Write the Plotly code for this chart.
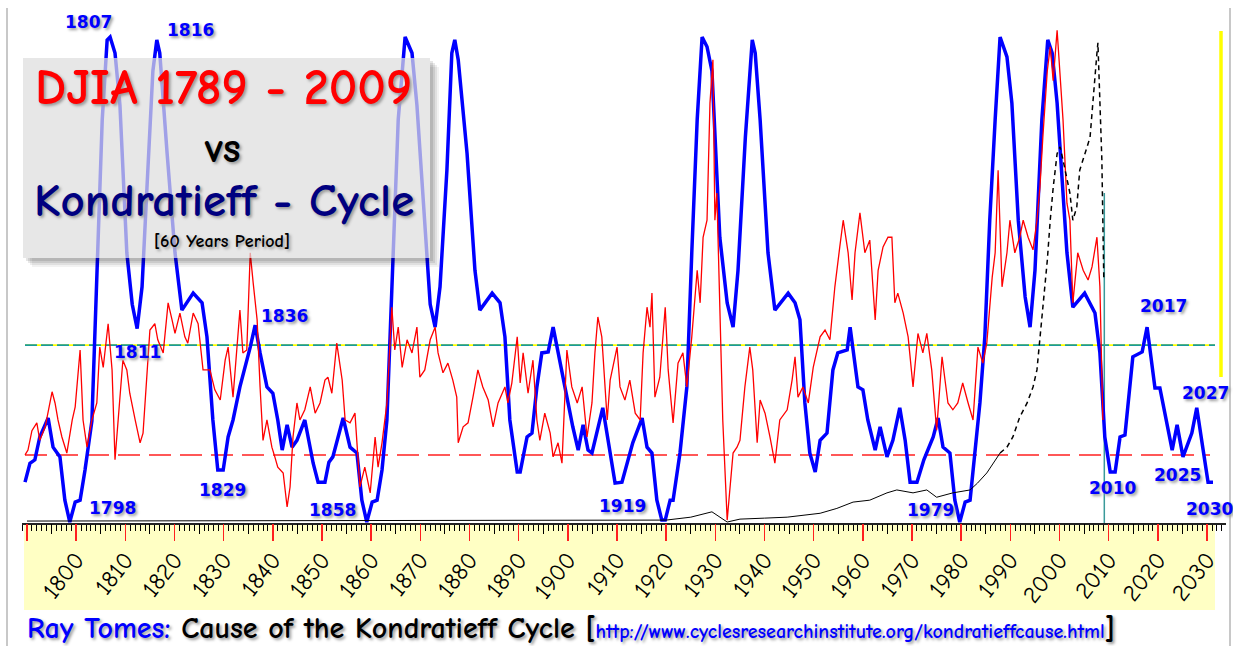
import plotly.graph_objects as go

# ---------------- data ----------------
blue_years = [1789.6, 1790.6, 1791.6, 1792.6, 1794.3, 1795.3, 1796.7, 1797.7, 1798.7, 1799.8,
              1800.8, 1801.8, 1803.2, 1804.2, 1805.3, 1806.3, 1806.9, 1807.9, 1808.9, 1810.3,
              1811.4, 1812.4, 1813.4, 1814.4, 1815.6, 1816.4, 1817.0, 1818.5, 1820.1, 1821.5,
              1823.8, 1825.6, 1826.6, 1827.8, 1828.8, 1829.9, 1830.9, 1831.9, 1833.3, 1835.4,
              1836.4, 1837.4, 1838.8, 1840.0, 1841.0, 1841.9, 1842.9, 1843.9, 1844.9, 1846.5,
              1848.2, 1849.2, 1850.6, 1851.4, 1852.2, 1854.3, 1855.7, 1857.1, 1858.1, 1859.1,
              1860.2, 1861.2, 1862.2, 1863.2, 1864.2, 1865.5, 1866.9, 1868.3, 1869.3, 1871.3,
              1872.0, 1873.0, 1874.0, 1875.4, 1876.4, 1877.0, 1877.7, 1879.5, 1881.1, 1882.1,
              1884.6, 1886.2, 1887.2, 1888.2, 1889.7, 1890.3, 1891.7, 1892.7, 1893.7, 1894.7,
              1896.0, 1897.0, 1898.0, 1899.4, 1901.0, 1902.1, 1903.1, 1904.1, 1904.9, 1907.1,
              1908.6, 1909.6, 1911.0, 1912.3, 1913.2, 1915.1, 1916.1, 1917.1, 1918.1, 1919.1,
              1919.8, 1920.8, 1921.4, 1922.8, 1924.2, 1925.2, 1926.3, 1927.3, 1928.3, 1929.3,
              1930.9, 1932.4, 1933.6, 1934.6, 1936.1, 1937.5, 1938.1, 1939.1, 1940.7, 1942.1,
              1944.8, 1946.2, 1947.2, 1948.2, 1949.2, 1950.3, 1951.3, 1952.7, 1953.9, 1954.9,
              1956.8, 1957.4, 1958.0, 1959.0, 1960.0, 1961.0, 1962.5, 1963.5, 1964.9, 1966.1,
              1967.5, 1968.6, 1969.6, 1971.0, 1972.4, 1974.3, 1975.3, 1976.3, 1977.7, 1978.7,
              1979.7, 1980.8, 1981.8, 1982.8, 1983.8, 1984.8, 1985.8, 1986.9, 1987.9, 1989.3,
              1990.3, 1991.6, 1993.0, 1994.0, 1995.0, 1996.4, 1997.6, 1998.5, 1999.5, 2001.5,
              2002.7, 2005.1, 2006.2, 2007.2, 2008.2, 2009.2, 2010.3, 2011.3, 2012.3, 2013.3,
              2014.9, 2016.8, 2017.8, 2019.4, 2020.4, 2022.9, 2023.9, 2025.1, 2026.9, 2027.9,
              2029.2, 2030.2, 2031.2]
blue_vals = [8.4, 12.3, 13, 17.7, 21.6, 15.6, 13.6, 4.7, 0.2, 4.3,
             4.7, 10.9, 21, 48.6, 83, 99.4, 100, 96.7, 86, 55.6,
             45, 40, 48.6, 69, 93, 99.4, 96.7, 76, 55.6, 43.8,
             47.3, 45.3, 38.3, 21.2, 10.9, 10.9, 17.7, 21.2, 28, 36.2,
             40.7, 35, 28, 26.7, 21.2, 15, 20.2, 15.6, 17, 21.2,
             12.3, 8.4, 8.4, 12.5, 13.6, 21.6, 15.6, 14.4, 4.7, 0.2,
             4.3, 4.7, 10.9, 21.2, 48.6, 83, 100, 96.7, 86, 55.6,
             45, 40.3, 48.6, 72.6, 96.7, 99.4, 95.3, 76, 52, 43.8,
             47.3, 45.3, 38.3, 21.2, 10.5, 10.5, 17.7, 18.5, 28, 35,
             35.2, 40.3, 35, 28, 19.8, 15, 20.2, 15, 14.4, 23.7,
             15, 8.2, 8.4, 13, 16.5, 21.6, 15.6, 14.4, 4.7, 0.6,
             0.6, 4.7, 4.7, 14.4, 28, 55.6, 83, 100, 98, 93,
             58.8, 45.3, 40.3, 52, 79.4, 99.4, 96.7, 83, 55.6, 43.8,
             47.3, 45.3, 41.8, 24.7, 14.4, 10.5, 17, 18.5, 31.5, 35,
             35.6, 40.3, 35.6, 28, 27.4, 21.2, 15, 19.8, 13.6, 17,
             23.7, 17, 8.4, 8.4, 13, 17.7, 21.6, 15.6, 14.4, 4.7,
             0.2, 4.3, 4.7, 14.4, 24.7, 38.3, 62.3, 83, 100, 95.9,
             86.4, 62.3, 46.5, 40.3, 52, 83, 99.4, 96.7, 86.4, 55.6,
             44.4, 47.3, 45.3, 43.2, 35, 17.7, 10.5, 10.5, 17.7, 18.1,
             34.2, 35.2, 40.3, 27.8, 27.8, 15, 20.2, 13.6, 18.5, 23.7,
             15, 8.4, 8.4]

red_years = [1789.6, 1790.2, 1791.0, 1792.0, 1792.6, 1793.7, 1795.1, 1795.7, 1796.3, 1797.1,
             1798.1, 1799.2, 1799.8, 1800.8, 1801.4, 1802.2, 1803.2, 1804.2, 1804.8, 1805.5,
             1806.5, 1807.3, 1807.9, 1808.5, 1809.5, 1810.3, 1810.9, 1812.0, 1813.0, 1813.6,
             1814.4, 1815.0, 1816.0, 1816.6, 1817.7, 1818.7, 1819.5, 1820.1, 1821.1, 1822.1,
             1822.7, 1823.8, 1824.8, 1825.8, 1827.2, 1828.2, 1829.3, 1830.3, 1830.9, 1831.9,
             1833.3, 1833.9, 1834.7, 1835.4, 1836.0, 1836.8, 1837.4, 1838.0, 1838.8, 1839.8,
             1840.4, 1841.0, 1842.1, 1842.9, 1843.5, 1844.1, 1844.9, 1845.5, 1846.5, 1847.6,
             1848.6, 1849.6, 1850.6, 1851.2, 1852.0, 1853.0, 1854.1, 1854.7, 1855.7, 1856.7,
             1857.7, 1858.7, 1859.8, 1860.8, 1861.4, 1862.2, 1863.2, 1864.2, 1864.8, 1865.5,
             1866.3, 1867.3, 1868.3, 1869.3, 1869.9, 1870.9, 1872.0, 1873.0, 1873.6, 1874.6,
             1875.6, 1876.6, 1877.4, 1877.7, 1878.7, 1879.7, 1880.7, 1881.7, 1882.7, 1883.8,
             1884.8, 1885.8, 1887.2, 1887.8, 1888.6, 1889.7, 1890.3, 1890.9, 1891.9, 1892.9,
             1893.7, 1894.3, 1895.3, 1896.4, 1897.0, 1898.0, 1898.8, 1899.8, 1900.8, 1901.9,
             1902.9, 1903.9, 1904.9, 1905.5, 1906.1, 1906.9, 1908.0, 1908.6, 1910.0, 1910.6,
             1911.6, 1912.6, 1913.7, 1914.7, 1915.3, 1916.1, 1916.7, 1917.1, 1917.7, 1918.7,
             1919.8, 1920.4, 1921.4, 1922.4, 1923.4, 1924.2, 1925.2, 1926.3, 1926.9, 1927.5,
             1928.3, 1928.9, 1929.5, 1929.9, 1930.3, 1930.9, 1931.5, 1932.4, 1933.0, 1933.6,
             1934.4, 1935.0, 1936.0, 1937.0, 1937.6, 1938.5, 1939.1, 1940.1, 1941.1, 1942.1,
             1943.1, 1944.6, 1945.6, 1946.2, 1946.8, 1947.8, 1948.9, 1949.9, 1951.3, 1952.3,
             1953.3, 1954.3, 1955.3, 1956.0, 1957.0, 1957.8, 1958.4, 1959.4, 1960.4, 1961.4,
             1962.5, 1963.1, 1964.1, 1965.1, 1965.9, 1966.5, 1967.1, 1968.2, 1969.2, 1970.2,
             1971.2, 1972.2, 1973.0, 1974.0, 1975.0, 1976.1, 1977.3, 1978.3, 1979.3, 1980.3,
             1981.4, 1982.4, 1983.4, 1984.4, 1985.2, 1986.3, 1986.9, 1987.5, 1988.3, 1989.3,
             1989.9, 1990.9, 1991.9, 1992.6, 1993.6, 1994.6, 1995.4, 1996.0, 1996.6, 1997.5,
             1998.1, 1998.7, 1999.5, 2000.1, 2000.7, 2001.5, 2002.1, 2002.7, 2003.7, 2004.8,
             2005.8, 2006.6, 2007.6, 2008.2, 2008.8]
red_vals = [14, 15, 19, 20.6, 17, 19.8, 27, 24.7, 21.2, 17.7,
            14.4, 21.2, 23.9, 35.6, 21.2, 15.6, 21.2, 24.7, 36.2, 32,
            41, 31.5, 13, 21.2, 33.5, 31.5, 26.7, 21.2, 16.5, 18.5,
            31.5, 39.7, 41, 37.7, 35, 45.3, 41.8, 39, 43.2, 38.3,
            37, 43.2, 41, 31.5, 31.5, 27.4, 25.3, 33.5, 36.2, 25.9,
            43.8, 35, 35.6, 55.6, 49.4, 41.8, 28, 17, 21.2, 15.6,
            13.6, 11.5, 10.3, 3.3, 7.4, 17.7, 24.7, 21.2, 23.3, 28,
            22.6, 24.7, 29.4, 30, 26.7, 37, 29.4, 21.2, 20.6, 22.6,
            7.4, 11.5, 6.2, 17.7, 11.5, 16.5, 24.7, 44.4, 35.6, 40.3,
            32, 37.7, 35, 40.3, 30, 31.5, 37.7, 40.3, 35, 30.9,
            32.9, 29.4, 25.9, 16.5, 19.8, 20.6, 25.9, 31.5, 28, 25.3,
            19.8, 24.7, 28, 24.7, 28.8, 38.3, 28.8, 35, 26.7, 33.5,
            21.2, 17, 22.6, 18.5, 13.6, 16.5, 12.3, 35.6, 28, 24.7,
            28, 17.7, 24.7, 35, 42.4, 38.3, 21.2, 29.4, 36.2, 28,
            25.3, 29.4, 22.6, 21.2, 35, 44.4, 40.3, 47.3, 25.9, 30,
            44.4, 31.5, 20.6, 32.9, 35, 28, 38.3, 52, 45.3, 58.8,
            62.3, 86.4, 95.3, 62.3, 67.9, 41.8, 21.2, 0.6, 7.4, 14.4,
            15.6, 17, 28, 36.2, 31.5, 16.5, 25.3, 22.6, 17.7, 12.3,
            21.2, 23.3, 29.4, 34.2, 25.9, 28, 24.7, 32, 38.3, 39.7,
            37.7, 48.6, 56.8, 62.3, 55.6, 45.9, 55.6, 63.8, 55.6, 58.2,
            41.8, 52, 56.8, 58.8, 58.8, 45.3, 47.3, 43.2, 38.3, 28,
            39, 35, 39, 31.5, 19.1, 34.2, 24.7, 23.3, 24.7, 28.8,
            24.7, 21.2, 36.2, 32.9, 37, 50.6, 55.6, 72.6, 48.6, 55.6,
            62.3, 55.6, 58.8, 62.3, 58.8, 56.2, 62.3, 69, 79.4, 93,
            98, 91, 101.4, 93, 83, 65.8, 62.3, 45.3, 55.6, 52,
            50, 52.7, 58.8, 48.6, 21.2]

black_years = [1790, 1850, 1900, 1910, 1920, 1925, 1929.3, 1932.4, 1935, 1940,
               1944.6, 1951.3, 1954.7, 1958, 1961.4, 1964.9, 1966.9, 1970.2, 1973, 1975,
               1978.3, 1981.8, 1983.3, 1985.2, 1987.9]
black_vals = [0.4, 0.5, 0.5, 0.6, 0.6, 1.2, 2.3, 0.2, 0.8, 1.0,
              1.2, 2, 3, 4.3, 4.7, 6.2, 6.8, 6.2, 6.8, 5.3,
              6.2, 6.8, 8.2, 10.3, 14.4]
black_late_years = [1987.9, 1989.3, 1990.5, 1991.9, 1993.4, 1994.6, 1995.4, 1996, 1996.6, 1997.5,
                    1998.1, 1998.7, 1999.5, 2000.1, 2000.7, 2001.5, 2002.1, 2002.7, 2003.5, 2004.1,
                    2004.8, 2005.6, 2006.2, 2006.8, 2007.6, 2007.8, 2008.2, 2008.6, 2008.8, 2009]
black_late_vals = [14.4, 15.6, 17.7, 21.8, 24.7, 28, 31.5, 37.7, 45.3, 54,
                   62.3, 69, 76, 77.4, 74.7, 70.6, 67.9, 62.3, 65, 72.6,
                   74.7, 77.4, 79.4, 87.7, 96.7, 98.8, 86.4, 74.7, 62.3, 50]

cycle_labels = ["1807", "1816", "1811", "1798", "1829", "1836", "1858", "1919",
                "1979", "2010", "2017", "2025", "2027", "2030"]
decade_ticks = list(range(1790, 2031, 10))
half_ticks = list(range(1795, 2031, 10))
zero_level = 14        # red dashed reference
mid_level = 36.6       # dash-dot reference
crash_year = 2009.1

# ---------------- geometry helpers ----------------
W, H = 1233, 646
L, R, T, B = 22, 1226, 5, 523
X0_PX, PX_PER_YEAR, PX_PER_UNIT = 27, 4.917, 4.86


def xyear(px):
    return 1790 + (px - X0_PX) / PX_PER_YEAR


def yval(py):
    return (B - py) / PX_PER_UNIT


def xp(px):
    return (px - L) / (R - L)


def yp(py):
    return (B - py) / (B - T)


FONT = "Comic Sans MS, Comic Neue, DejaVu Sans, sans-serif"
LABEL_FONT = "DejaVu Sans, Verdana, sans-serif"

fig = go.Figure()
fig.add_trace(go.Scatter(x=blue_years, y=blue_vals, mode="lines",
                         line=dict(color="#0000ff", width=3.5), hoverinfo="skip"))
fig.add_trace(go.Scatter(x=red_years, y=red_vals, mode="lines",
                         line=dict(color="#ff0000", width=1.3), hoverinfo="skip"))
fig.add_trace(go.Scatter(x=black_years, y=black_vals, mode="lines",
                         line=dict(color="#000000", width=1), hoverinfo="skip"))
fig.add_trace(go.Scatter(x=black_late_years, y=black_late_vals, mode="lines",
                         line=dict(color="#000000", width=1.5, dash="5px,4px"), hoverinfo="skip"))
for ax in ("x2", "x3"):
    fig.add_trace(go.Scatter(x=[1800], y=[0], xaxis=ax, mode="markers",
                             marker=dict(opacity=0), hoverinfo="skip"))

shapes = []
# outer frame lines
shapes.append(dict(type="line", xref="paper", yref="paper", x0=xp(7), x1=xp(7),
                   y0=yp(8), y1=yp(646), line=dict(color="#c8c8c8", width=2)))
shapes.append(dict(type="line", xref="paper", yref="paper", x0=xp(1230), x1=xp(1230),
                   y0=yp(8), y1=yp(646), line=dict(color="#c8c8c8", width=2)))
# yellow band under axis
shapes.append(dict(type="rect", xref="paper", yref="paper", x0=xp(24), x1=xp(1215),
                   y0=yp(610), y1=yp(523), fillcolor="#ffffc4", line=dict(width=0),
                   layer="below"))
# reference lines
shapes.append(dict(type="line", xref="x", yref="y", x0=xyear(25), x1=xyear(1210),
                   y0=zero_level, y1=zero_level, layer="below",
                   line=dict(color="#ff2020", width=1.5, dash="22px,9px")))
shapes.append(dict(type="line", xref="x", yref="y", x0=xyear(25), x1=xyear(1215),
                   y0=mid_level, y1=mid_level, layer="below",
                   line=dict(color="#ffff00", width=1.6)))
shapes.append(dict(type="line", xref="x", yref="y", x0=xyear(25), x1=xyear(1215),
                   y0=mid_level, y1=mid_level, layer="below",
                   line=dict(color="#1a9a9a", width=1.6, dash="12px,4px")))
shapes.append(dict(type="line", xref="x", yref="y", x0=crash_year, x1=crash_year,
                   y0=0, y1=yval(193), layer="below",
                   line=dict(color="#3a9a9a", width=1.5)))
shapes.append(dict(type="line", xref="x", yref="y", x0=xyear(1221), x1=xyear(1221),
                   y0=yval(377), y1=yval(31),
                   line=dict(color="#ffff00", width=3.5)))
# title box with soft shadow
for off, alpha in ((9, 0.05), (7, 0.07), (5, 0.09), (3, 0.10)):
    shapes.append(dict(type="rect", xref="paper", yref="paper", x0=xp(430), x1=xp(430 + off),
                       y0=yp(258 + off), y1=yp(58 + off), fillcolor="rgba(0,0,0,%.2f)" % alpha,
                       line=dict(width=0), layer="above"))
    shapes.append(dict(type="rect", xref="paper", yref="paper", x0=xp(23 + off), x1=xp(430),
                       y0=yp(258 + off), y1=yp(258), fillcolor="rgba(0,0,0,%.2f)" % alpha,
                       line=dict(width=0), layer="above"))
shapes.append(dict(type="rect", xref="paper", yref="paper", x0=xp(23), x1=xp(430),
                   y0=yp(258), y1=yp(58), fillcolor="rgba(222,222,222,0.72)",
                   line=dict(width=0), layer="above"))

annotations = []
SHADOW = "2px 2px 3px #9a9a9a"
label_pos = [(88, 22), (190, 30), (137, 352), (112, 508), (222, 490), (284, 316),
             (332, 510), (622, 506), (930, 510), (1112, 488), (1163, 306),
             (1177, 475), (1205, 393), (1209, 509)]
for txt, (px, py) in zip(cycle_labels, label_pos):
    annotations.append(dict(x=xyear(px), y=yval(py), xref="x", yref="y", text=txt,
                            showarrow=False, xanchor="center", yanchor="middle",
                            font=dict(family=LABEL_FONT, size=17, color="#0000ff",
                                      weight="bold", shadow=SHADOW)))

title_items = [("DJIA 1789 - 2009", 223, 88, 50, "#ff0000", "bold"),
               ("vs", 222, 148, 42, "#000000", "bold"),
               ("Kondratieff - Cycle", 224, 201, 47, "#000080", "bold"),
               ("[60 Years Period]", 222, 241, 18, "#000000", "bold")]
for txt, px, py, sz, col, wt in title_items:
    annotations.append(dict(x=xp(px), y=yp(py), xref="paper", yref="paper", text=txt,
                            showarrow=False, xanchor="center", yanchor="middle",
                            font=dict(family=FONT, size=sz, color=col, weight=wt,
                                      shadow=SHADOW)))

footer = ("<span style='color:#0000ff'>Ray Tomes:</span> "
          "Cause of the Kondratieff Cycle ["
          "<span style='color:#0000ff;font-size:20px'>http://www.cyclesresearchinstitute.org/"
          "kondratieffcause.html</span>]")
annotations.append(dict(x=xp(25), y=yp(628), xref="paper", yref="paper", text=footer,
                        showarrow=False, xanchor="left", yanchor="middle",
                        font=dict(family=FONT, size=30, color="#000000", weight="bold",
                                  shadow=SHADOW)))

xrange = [xyear(L), xyear(R)]
fig.update_layout(
    template="none",
    width=W, height=H,
    margin=dict(l=L, r=W - R, t=T, b=H - B, pad=0),
    paper_bgcolor="white", plot_bgcolor="white",
    showlegend=False,
    xaxis=dict(range=xrange, showgrid=False, zeroline=False, showline=True,
               linecolor="#222222", linewidth=2, ticks="", tickmode="array",
               tickvals=decade_ticks, ticktext=[str(v) for v in decade_ticks],
               tickangle=-52, ticklabelstandoff=11,
               tickfont=dict(family=FONT, size=24, color="#000000"),
               minor=dict(ticks="outside", dtick=1, tick0=1790, ticklen=6,
                          tickcolor="#000000", tickwidth=1),
               automargin=False, fixedrange=True),
    xaxis2=dict(range=xrange, overlaying="x", anchor="y", side="bottom",
                tickmode="array", tickvals=half_ticks, ticks="outside", ticklen=10,
                tickcolor="#000000", tickwidth=1, showticklabels=False,
                showgrid=False, zeroline=False, showline=False, automargin=False),
    xaxis3=dict(range=xrange, overlaying="x", anchor="y", side="bottom",
                tickmode="array", tickvals=decade_ticks, ticks="outside", ticklen=17,
                tickcolor="#ff2020", tickwidth=1.5, showticklabels=False,
                showgrid=False, zeroline=False, showline=False, automargin=False),
    yaxis=dict(range=[0, yval(T)], visible=False, fixedrange=True, automargin=False),
    shapes=shapes,
    annotations=annotations,
)

fig.write_html("out.html",
               config={"displayModeBar": False, "staticPlot": True},
               post_script="document.body.style.margin='0';"
                           "document.body.style.overflow='hidden';")
